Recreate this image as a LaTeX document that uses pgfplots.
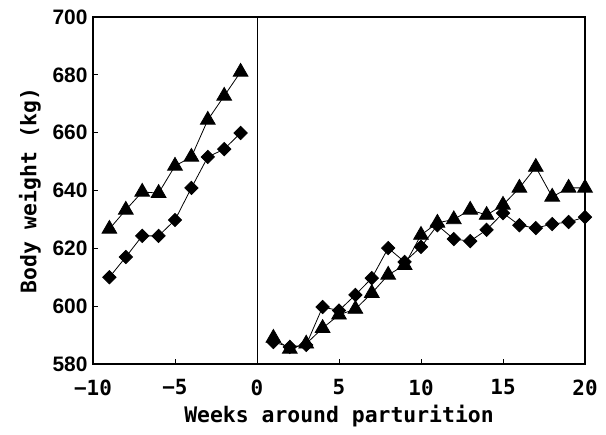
\documentclass[border=0pt]{standalone}
\usepackage{fontspec}
\setmainfont{Liberation Sans}
\newfontfamily\gothic{DejaVu Sans Mono}
\usepackage{pgfplots}
\pgfplotsset{compat=1.18}

\begin{document}
\begin{tikzpicture}
\begin{axis}[
  scale only axis, width=492bp, height=347bp,
  xmin=-10, xmax=20, ymin=580, ymax=700,
  xtick={-10,-5,0,5,10,15,20},
  xticklabels={−10,−5,0,5,10,15,20},
  ytick={580,600,...,700},
  /pgf/number format/assume math mode=true,
  tick align=inside, xtick pos=bottom, ytick pos=left,
  major tick length=5bp,
  axis line style={line width=1.3bp},
  tick style={line width=0.8bp, black},
  yticklabel style={font=\bfseries\fontsize{21}{21}\selectfont, xshift=-2bp},
  xticklabel style={font=\gothic\bfseries\fontsize{21}{21}\selectfont, yshift=-12bp},
  xlabel={Weeks around parturition},
  ylabel={Body weight (kg)},
  label style={font=\gothic\bfseries\fontsize{21.5}{21.5}\selectfont},
  xlabel style={yshift=-3bp},
  ylabel style={yshift=5bp},
  every axis plot/.append style={black, line width=0.8bp},
  tri/.style={mark=triangle*, mark size=8.5bp, mark options={solid}},
  dia/.style={mark=square*, mark size=4.7bp, mark options={rotate=45, solid}},
]
% vertical line at parturition
\addplot[no marks, line width=0.6bp] coordinates {(0,580) (0,700)};
% before parturition
\addplot[tri] coordinates {(-9,626.7) (-8,633.3) (-7,639.5) (-6,639.1) (-5,648.5) (-4,651.6) (-3,664.4) (-2,672.7) (-1,681)};
\addplot[dia] coordinates {(-9,610) (-8,617) (-7,624.3) (-6,624.3) (-5,629.8) (-4,640.9) (-3,651.6) (-2,654.3) (-1,659.9)};
% after parturition
\addplot[tri] coordinates {(1,589) (2,585.2) (3,587) (4,592.4) (5,597) (6,599) (7,604.5) (8,610.8) (9,614.2) (10,624.6) (11,628.8) (12,630) (13,633.3) (14,631.5) (15,635) (16,640.9) (17,648.1) (18,637.8) (19,640.9) (20,640.9)};
\addplot[dia] coordinates {(1,587.6) (2,585.9) (3,586.6) (4,599.7) (5,598.5) (6,603.9) (7,609.7) (8,620.1) (9,615.3) (10,620.5) (11,628) (12,623.2) (13,622.5) (14,626.4) (15,632.2) (16,628) (17,627) (18,628.4) (19,629.1) (20,630.8)};
\end{axis}
\path (current axis.south west) ++(-93bp,-71bp);
\path (current axis.north east) ++(21bp,17bp);
\end{tikzpicture}
\end{document}
